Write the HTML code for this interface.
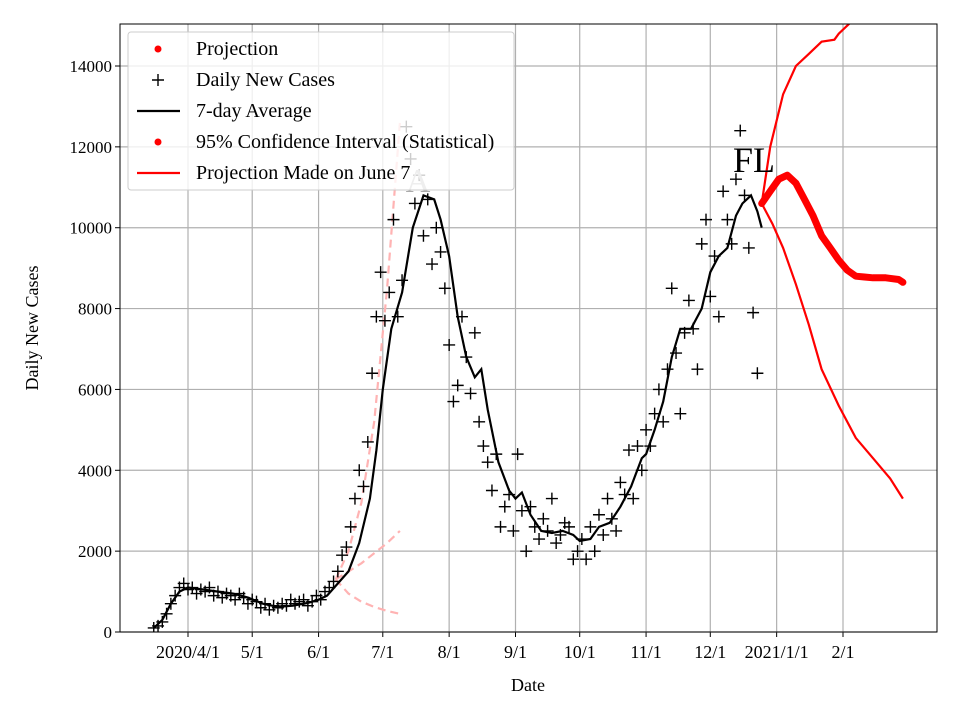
<!DOCTYPE html>
<html><head><meta charset="utf-8"><style>
body{margin:0;background:#fff}
svg text{font-family:"Liberation Serif",serif}
</style></head><body>
<svg id="chart" width="960" height="720" xmlns="http://www.w3.org/2000/svg"></svg>
<script>
// day 0 = 2020/4/1
const tickDays=[0,30,61,91,122,153,183,214,244,275,306];
const tickLabels=["2020/4/1","5/1","6/1","7/1","8/1","9/1","10/1","11/1","12/1","2021/1/1","2/1"];
const yTicks=[0,2000,4000,6000,8000,10000,12000,14000];
const avgDays=[-16,-12,-8,-4,0,7,14,21,28,35,42,49,56,61,65,70,75,80,85,88,91,95,100,105,110,115,118,122,126,130,134,137,140,145,150,153,156,160,165,170,175,180,183,188,192,197,202,207,212,214,218,222,226,230,235,240,244,248,252,256,259,263,266,268];
const avgVals=[100,300,700,1000,1100,1050,1000,950,850,700,620,650,720,800,900,1200,1500,2200,3300,4500,6000,7500,8400,10000,10800,10700,10200,9300,7800,6800,6300,6500,5500,4200,3500,3300,3450,2900,2500,2450,2500,2400,2250,2300,2600,2700,3100,3600,4300,4400,5000,5700,6800,7500,7500,8000,8900,9300,9500,10300,10600,10800,10400,10000];
const caseDays=[];for(let d=-16;d<=268;d+=2)caseDays.push(d);
const caseVals=[100,150,250,450,700,900,1100,1200,1050,1100,950,1050,1000,1100,900,1000,850,950,900,800,950,850,700,800,750,600,700,550,650,600,700,650,800,700,750,800,650,750,900,800,1000,1100,1250,1500,1900,2100,2600,3300,4000,3600,4700,6400,7800,8900,7700,8400,10200,7800,8700,12500,11700,10600,11300,9800,10700,9100,10000,9400,8500,7100,5700,6100,7800,6800,5900,7400,5200,4600,4200,3500,4400,2600,3100,3400,2500,4400,3000,2000,3100,2600,2300,2800,2500,3300,2200,2400,2700,2600,1800,2000,2300,1800,2600,2000,2900,2400,3300,2800,2500,3700,3400,4500,3300,4600,4000,5000,4600,5400,6000,5200,6500,8500,6900,5400,7400,8200,7500,6500,9600,10200,8300,9300,7800,10900,10200,9600,11200,12400,10800,9500,7900,6400];
const projDays=[268,272,276,280,284,288,292,296,300,304,308,312,316,320,326,332,334];
const projVals=[10600,10900,11200,11300,11100,10700,10300,9800,9500,9200,8950,8800,8780,8760,8760,8720,8650];
const upDays=[268,272,278,284,290,296,302,304,310];
const upVals=[10600,12000,13300,14000,14300,14600,14650,14800,15100];
const loDays=[268,273,278,284,290,296,304,312,320,328,334];
const loVals=[10600,10100,9500,8600,7600,6500,5600,4800,4300,3800,3300];
const juneDays=[69,75,81,87,93,99];
const juneMid=[1300,1500,1700,1950,2200,2500];
const juneUp=[1300,2000,3200,5200,8500,12600];
const juneLo=[1300,950,750,620,520,450];

const X0=120,X1=937,Y0=24,Y1=632;
const xs=d=>188+d*(843-188)/306;
const ys=v=>632-v*(632-66)/14000;
const svg=document.getElementById('chart');
const NS="http://www.w3.org/2000/svg";
function mk(t,a,p){const e=document.createElementNS(NS,t);for(const k in a)e.setAttribute(k,a[k]);(p||svg).appendChild(e);return e;}
const clip=mk('clipPath',{id:'pc'});mk('rect',{x:X0,y:Y0,width:X1-X0,height:Y1-Y0},clip);
tickDays.forEach((d,i)=>{const x=xs(d);
 const g=mk('line',{x1:x,x2:x,y1:Y0,y2:Y1,stroke:'#b0b0b0','stroke-width':1.2});
 
 mk('line',{x1:x,x2:x,y1:Y1,y2:Y1+5,stroke:'#000'});
 const t=mk('text',{x:x,y:Y1+26,'text-anchor':'middle','font-size':18});t.textContent=tickLabels[i];
 });
yTicks.forEach(v=>{const y=ys(v);
 const g=mk('line',{x1:X0,x2:X1,y1:y,y2:y,stroke:'#b0b0b0','stroke-width':1.2});
 
 mk('line',{x1:X0-5,x2:X0,y1:y,y2:y,stroke:'#000'});
 const t=mk('text',{x:X0-8,y:y+6,'text-anchor':'end','font-size':17});t.textContent=v;
 });
const G=mk('g',{'clip-path':'url(#pc)'});
function path(dd,vv,attrs,name){const d=dd.map((x,i)=>(i?'L':'M')+xs(x).toFixed(1)+' '+ys(vv[i]).toFixed(1)).join('');
 const p=mk('path',Object.assign({d:d,fill:'none'},attrs),G);return p;}
const dash={stroke:'#ffb3b3','stroke-width':2.2,'stroke-dasharray':'8,5'};
path(juneDays,juneUp,dash,'june-upper-projection');
path(juneDays,juneMid,dash,'june-mid-projection');
path(juneDays,juneLo,dash,'june-lower-projection');
caseDays.forEach((d,i)=>{const x=xs(d),y=ys(caseVals[i]);
 const p=mk('path',{d:`M${x-6} ${y}H${x+6}M${x} ${y-6}V${y+6}`,stroke:'#000','stroke-width':1.4},G);
 });
path(avgDays,avgVals,{stroke:'#000','stroke-width':2.2},'seven-day-average-line');
path(upDays,upVals,{stroke:'#f00','stroke-width':2.2},'ci-upper-line');
path(loDays,loVals,{stroke:'#f00','stroke-width':2.2},'ci-lower-line');
path(projDays,projVals,{stroke:'#f00','stroke-width':7,'stroke-linecap':'round','stroke-linejoin':'round'},'projection-dots');
const tA=mk('text',{x:418,y:192,'text-anchor':'middle','font-size':34,fill:'#aaa'});tA.textContent='A';

const tF=mk('text',{x:754,y:172,'text-anchor':'middle','font-size':36,fill:'#000'});tF.textContent='FL';

mk('rect',{x:X0,y:Y0,width:X1-X0,height:Y1-Y0,fill:'none',stroke:'#000','stroke-width':1});
const L=mk('g',{});
mk('rect',{x:128,y:32,width:386,height:158,rx:3,fill:'#fff','fill-opacity':0.8,stroke:'#ccc'},L);
const items=[['dot','Projection'],['plus','Daily New Cases'],['line','7-day Average'],['dot','95% Confidence Interval (Statistical)'],['rline','Projection Made on June 7']];
items.forEach((it,i)=>{const y=49+i*31;const g=mk('g',{},L);
 
 if(it[0]=='dot')mk('circle',{cx:158,cy:y,r:3.5,fill:'#f00'},g);
 if(it[0]=='plus')mk('path',{d:`M152 ${y}H164M158 ${y-6}V${y+6}`,stroke:'#000','stroke-width':1.4},g);
 if(it[0]=='line')mk('line',{x1:137,x2:180,y1:y,y2:y,stroke:'#000','stroke-width':2.2},g);
 if(it[0]=='rline')mk('line',{x1:137,x2:180,y1:y,y2:y,stroke:'#f00','stroke-width':2.2},g);
 const t=mk('text',{x:196,y:y+6,'font-size':20},g);t.textContent=it[1];});
const xl=mk('text',{x:528,y:691,'text-anchor':'middle','font-size':18});xl.textContent='Date';

const yl=mk('text',{x:38,y:328,'text-anchor':'middle','font-size':18,transform:'rotate(-90 38 328)'});yl.textContent='Daily New Cases';

</script>
</body></html>
